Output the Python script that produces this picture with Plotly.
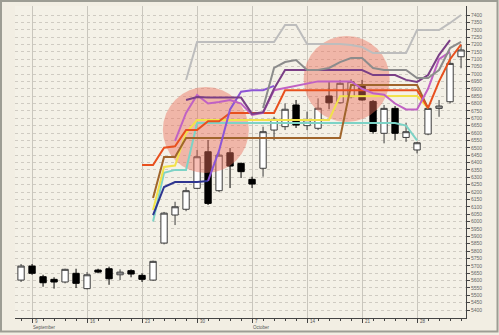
import plotly.graph_objects as go

# ---------------- data ----------------
days = list(range(41))
opens  = [5603,5698,5626,5608,5590,5649,5545,5671,5680,5639,5667,5635,5603,
          5854,6044,6083,6225,6473,6209,6466,6394,6286,6361,6620,6643,6790,6650,6632,6851,6805,
          6846,6925,6814,6598,6767,6570,6485,6593,6767,6812,7117]
highs  = [5712,5712,5639,5622,5680,5680,5657,5680,5694,5676,5676,5649,5735,
          6065,6134,6232,6485,6552,6470,6498,6400,6304,6643,6710,6801,6824,6745,6835,6948,6960,
          6965,6960,6824,6790,6783,6670,6540,6790,6824,7140,7197]
lows   = [5590,5639,5558,5545,5581,5549,5540,5649,5571,5603,5622,5590,5598,
          5845,5976,6070,6220,6112,6200,6227,6295,6227,6304,6552,6620,6634,6620,6620,6761,6800,
          6835,6820,6595,6530,6552,6540,6462,6585,6710,6800,7039]
closes = [5698,5649,5585,5590,5676,5581,5639,5657,5612,5657,5644,5608,5730,
          6057,6100,6209,6439,6123,6450,6376,6338,6254,6609,6693,6761,6654,6690,6768,6805,6937,
          6948,6824,6610,6767,6598,6609,6534,6767,6783,7072,7163]

# indicator lines (values per trading day, None where the line is absent)
line_light_grey = 15 * [None] + [6959, 7217, 7217, 7217, 7217, 7217, 7217, 7217, 7217, 7332, 7332,
                                 7203, 7203, 7203, 7203, 7197, 7183, 7142, 7142, 7142, 7142, 7298, 7298,
                                 7298, 7346, 7400]
line_grey   = 22 * [None] + [6769, 7041, 7081, 7095, 7027, 7027, 7041, 7081, 7108, 7108, 7041, 7027, 7027,
                             7027, 6973, 6973, 7027, 7176, 7217]
line_plum   = 15 * [None] + [6824, 6844, 6840, 6840, 6840, 6840, 6730, 6740, 6900, 7027, 7027, 7027, 7027,
                             7027, 7027, 7027, 7027, 6993, 6993, 6993, 6960, 6946, 6993, 7130, 7230]
line_magenta = 14 * [None] + [6546, 6736, 6858, 6800, 6810, 6824, 6800, 6722, 6736, 6890, 6905, 6920, 6940,
                              6950, 6950, 6950, 6950, 6900, 6870, 6860, 6800, 6760, 6760, 6900, 7100, 7150]
line_red    = 11 * [None] + [6383, 6383, 6500, 6510, 6620, 6620, 6680, 6680, 6736, 6736, 6736, 6736, 6736,
                             6890, 6890, 6890, 6890, 6890, 6890, 6890, 6890, 6890, 6890, 6890, 6890, 6890,
                             6769, 6950, 7100, 7200]
line_yellow = 12 * [None] + [6078, 6370, 6380, 6600, 6688, 6688, 6688, 6688, 6688, 6688, 6688, 6688, 6688,
                             6688, 6688, 6688, 6688, 6850, 6851, 6851, 6851, 6851, 6851, 6851, 6851, 6769]
line_green  = 12 * [None] + [6000, 6330, 6350, 6350, 6668, 6668, 6668, 6668, 6668, 6668, 6668, 6668, 6668,
                             6668, 6668, 6668, 6668, 6668, 6668, 6668, 6668, 6668, 6668, 6650, 6550]
line_brown  = 12 * [None] + [6160, 6437, 6437, 6566, 6566, 6566, 6566, 6566, 6566, 6566, 6566, 6566, 6566,
                             6566, 6566, 6566, 6566, 6566, 6925, 6925, 6925, 6925, 6925, 6925, 6925, 6769]
line_navy   = 12 * [None] + [6044, 6234, 6268, 6268, 6268, 6275]
line_violet = 17 * [None] + [6275, 6480, 6760, 6880, 6890, 6890, 6920]

lines = [
    ("#7dd3c6", line_green),
    ("#f2e24a", line_yellow),
    ("#a0652c", line_brown),
    ("#2e3590", line_navy),
    ("#e8501e", line_red),
    ("#8c55d6", line_violet),
    ("#c062c4", line_magenta),
    ("#7a3f86", line_plum),
    ("#8c8c8c", line_grey),
    ("#bdbdbd", line_light_grey),
]

highlight_days = [16.8, 29.6]
highlight_vals = [6620, 6966]

price_ticks = list(range(5400, 7401, 50))
week_days = [1, 6, 11, 16, 21, 26, 31, 36]
week_labels = ["9", "16", "23", "30", "7", "14", "21", "28"]
month_days = [1, 21]
month_labels = ["September", "October"]

# ---------------- figure ----------------
fig = go.Figure()
fig.add_trace(go.Candlestick(
    x=days, open=opens, high=highs, low=lows, close=closes,
    increasing=dict(fillcolor="white", line=dict(color="#3c3c3c", width=1)),
    decreasing=dict(fillcolor="black", line=dict(color="black", width=1)),
    whiskerwidth=0, showlegend=False, hoverinfo="skip"))

fig.add_trace(go.Scatter(
    x=highlight_days, y=highlight_vals, mode="markers",
    marker=dict(size=86, color="rgba(235,110,90,0.45)", line=dict(width=0)),
    showlegend=False, hoverinfo="skip"))

for color, vals in lines:
    fig.add_trace(go.Scatter(x=days[:len(vals)], y=vals, mode="lines",
                             line=dict(color=color, width=2),
                             connectgaps=False, showlegend=False, hoverinfo="skip"))

L, R, T, B = 15, 33, 6, 17
W, H = 499, 335
pw, ph = W - L - R, H - T - B

annotations = []
for d, t in zip(week_days, week_labels):
    annotations.append(dict(x=d + 0.1, y=0.004, xref="x", yref="paper", text=t,
                            showarrow=False, xanchor="left", yanchor="top",
                            font=dict(size=4.5, color="#555555", family="Arial")))
for d, t in zip(month_days, month_labels):
    annotations.append(dict(x=d - 0.1, y=-0.016, xref="x", yref="paper", text=t,
                            showarrow=False, xanchor="left", yanchor="top",
                            font=dict(size=4.5, color="#555555", family="Arial")))

fig.update_layout(
    width=W, height=H, autosize=False,
    margin=dict(l=L, r=R, t=T, b=B, pad=0),
    paper_bgcolor="#f2eee3", plot_bgcolor="#f4f1e7",
    boxgap=0.18,
    annotations=annotations,
    shapes=[dict(type="rect", xref="paper", yref="paper",
                 x0=-(L - 1) / pw, x1=1 + (R - 1.5) / pw, y0=-(B - 3.5) / ph, y1=1 + (T - 1) / ph,
                 line=dict(color="#9d9d94", width=2), fillcolor="rgba(0,0,0,0)", layer="below")],
)
fig.update_xaxes(range=[-0.55, 40.45], tickvals=week_days, ticktext=["" for _ in week_days],
                 ticks="outside", ticklen=4, tickcolor="#444", showline=True, linecolor="#444",
                 linewidth=1, showgrid=True, gridcolor="#c9c6bd", gridwidth=1, zeroline=False,
                 minor=dict(dtick=1, tick0=0, ticks="outside", ticklen=2, tickcolor="#444", showgrid=False),
                 rangeslider=dict(visible=False), fixedrange=True)
fig.update_yaxes(side="right", range=[5346, 7461], tickvals=price_ticks,
                 ticktext=[str(v) for v in price_ticks], ticks="outside", ticklen=3,
                 tickcolor="#444", tickfont=dict(size=5, color="#666666", family="Arial"),
                 showline=True, linecolor="#444", linewidth=1,
                 showgrid=True, gridcolor="#cfcbc2", griddash="dot", gridwidth=1, zeroline=False)

fig.write_html("out.html")
